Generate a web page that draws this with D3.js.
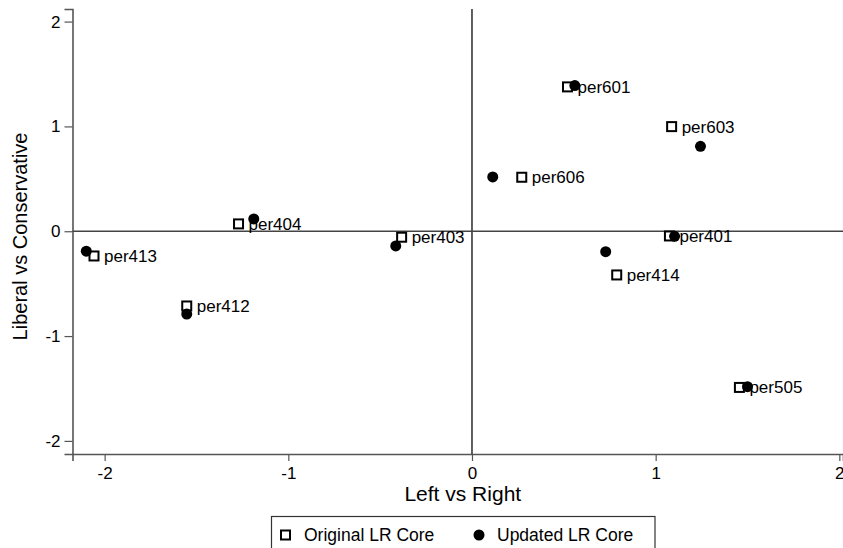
<!DOCTYPE html>
<html>
<head>
<meta charset="utf-8">
<script src="https://cdn.jsdelivr.net/npm/d3@7"></script>
<style>
  body { margin: 0; background: #fff; }
  text { font-family: "Liberation Sans", Arial, sans-serif; fill: #000; }
</style>
</head>
<body>
<div id="chart"></div>
<script>
var names      = ['per601', 'per603', 'per606', 'per404', 'per413', 'per412', 'per403', 'per414', 'per401', 'per505'];
var orig_x     = [0.52, 1.087, 0.271, -1.271, -2.058, -1.553, -0.383, 0.788, 1.075, 1.456];
var orig_y     = [1.377, 0.998, 0.515, 0.07, -0.236, -0.713, -0.057, -0.417, -0.045, -1.49];
var upd_x      = [0.56, 1.244, 0.113, -1.188, -2.10, -1.553, -0.415, 0.728, 1.103, 1.50];
var upd_y      = [1.39, 0.81, 0.518, 0.117, -0.19, -0.79, -0.14, -0.195, -0.048, -1.483];
var x_ticks    = [-2, -1, 0, 1, 2];
var y_ticks    = [-2, -1, 0, 1, 2];
var legend_labels = ['Original LR Core', 'Updated LR Core'];

var chart_width = 843
var chart_height = 548
var axis_color = '#555'

var svg = d3.select('#chart')
    .append('svg')
    .attr('width', chart_width)
    .attr('height', chart_height);

var x = d3.scaleLinear().domain([-2.175, 2.02]).range([72.5, 843]);
var y = d3.scaleLinear().domain([-2.125, 2.12]).range([454, 9]);

// Axes
var x_axis = d3.axisBottom(x)
    .tickValues(x_ticks)
    .tickSize(7)
    .tickPadding(6)
    .tickFormat(function(d){ return String(d); });

var y_axis = d3.axisLeft(y)
    .tickValues(y_ticks)
    .tickSize(8)
    .tickPadding(4)
    .tickFormat(function(d){ return String(d); });

var gx = svg.append('g')
    .attr('transform', 'translate(0,' + y(-2.125) + ')')
    .call(x_axis);

var gy = svg.append('g')
    .attr('transform', 'translate(' + x(-2.175) + ',0)')
    .call(y_axis);

[gx, gy].forEach(function(g){
    g.select('.domain').attr('stroke', axis_color).attr('stroke-width', 1.6);
    g.selectAll('.tick line').attr('stroke', axis_color).attr('stroke-width', 1.2);
    g.selectAll('.tick text')
        .attr('font-size', 17)
        .attr('fill', '#000')
        .style('font-family', '"Liberation Sans", Arial, sans-serif');
});

// Reference lines at zero
svg.append('line')
    .attr('x1', x(0)).attr('x2', x(0))
    .attr('y1', y(2.12)).attr('y2', y(-2.125))
    .attr('stroke', '#444')
    .attr('stroke-width', 1.7);

svg.append('line')
    .attr('x1', x(-2.175)).attr('x2', x(2.02))
    .attr('y1', y(0)).attr('y2', y(0))
    .attr('stroke', '#444')
    .attr('stroke-width', 1.7);

// Axis titles
svg.append('text')
    .attr('x', x(-0.05))
    .attr('y', 501)
    .attr('text-anchor', 'middle')
    .attr('font-size', 21)
    .text('Left vs Right');

svg.append('text')
    .attr('transform', 'translate(27,' + y(-0.05) + ') rotate(-90)')
    .attr('text-anchor', 'middle')
    .attr('font-size', 20)
    .text('Liberal vs Conservative');

// Original points (hollow squares)
svg.selectAll('rect.orig')
    .data(names)
    .enter()
    .append('rect')
    .attr('class', 'orig')
    .attr('x', function(d, i){ return x(orig_x[i]) - 4.5; })
    .attr('y', function(d, i){ return y(orig_y[i]) - 4.5; })
    .attr('width', 9)
    .attr('height', 9)
    .attr('fill', '#fff')
    .attr('stroke', '#000')
    .attr('stroke-width', 2);

// Labels next to original points
svg.selectAll('text.lbl')
    .data(names)
    .enter()
    .append('text')
    .attr('class', 'lbl')
    .attr('x', function(d, i){ return x(orig_x[i]) + 10; })
    .attr('y', function(d, i){ return y(orig_y[i]) + 6; })
    .attr('font-size', 17)
    .text(function(d){ return d; });

// Updated points (filled circles)
svg.selectAll('circle.upd')
    .data(names)
    .enter()
    .append('circle')
    .attr('class', 'upd')
    .attr('cx', function(d, i){ return x(upd_x[i]); })
    .attr('cy', function(d, i){ return y(upd_y[i]); })
    .attr('r', 5.5)
    .attr('fill', '#000');

// Legend
var legend = svg.append('g');

legend.append('rect')
    .attr('x', 271.5)
    .attr('y', 516.5)
    .attr('width', 383.5)
    .attr('height', 45)
    .attr('fill', '#fff')
    .attr('stroke', '#333')
    .attr('stroke-width', 1.2);

legend.append('rect')
    .attr('x', 281)
    .attr('y', 530.5)
    .attr('width', 9)
    .attr('height', 9)
    .attr('fill', '#fff')
    .attr('stroke', '#000')
    .attr('stroke-width', 2);

legend.append('circle')
    .attr('cx', 479)
    .attr('cy', 535)
    .attr('r', 5.5)
    .attr('fill', '#000');

legend.selectAll('text')
    .data(legend_labels)
    .enter()
    .append('text')
    .attr('x', function(d, i){ return i == 0 ? 304 : 497; })
    .attr('y', 541)
    .attr('font-size', 17.5)
    .text(function(d){ return d; });
</script>
</body>
</html>
